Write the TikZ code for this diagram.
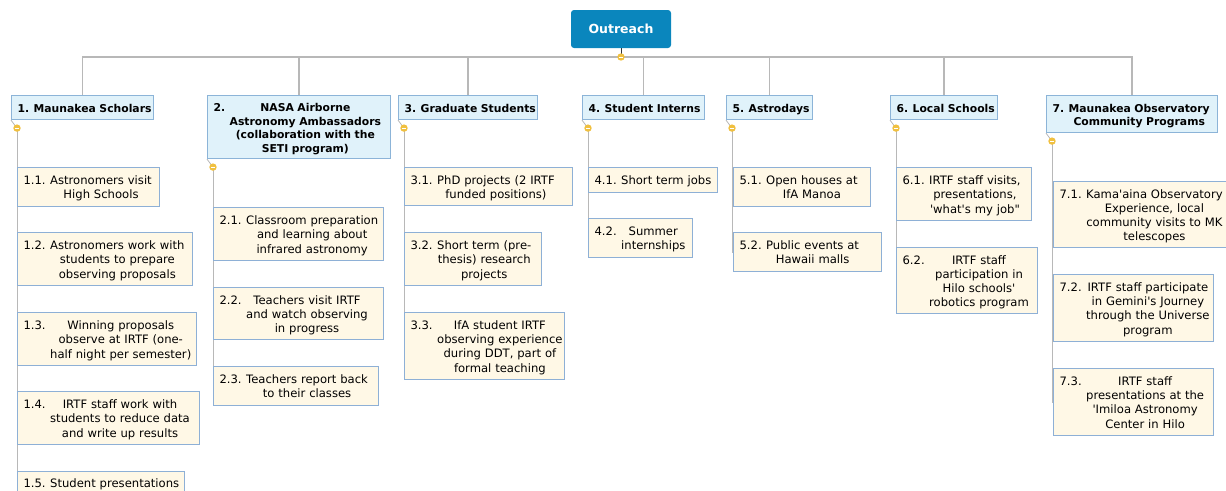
\documentclass[tikz,border=0pt]{standalone}
\usepackage{fontspec}
\setmainfont{DejaVu Sans}[Ligatures=TeXOff]
\usepackage{array}
\usetikzlibrary{calc}

\definecolor{rootblue}{HTML}{0A86BD}
\definecolor{hdrfill}{HTML}{E0F2FA}
\definecolor{hdrline}{HTML}{8CB4D8}
\definecolor{kidfill}{HTML}{FFF8E6}
\definecolor{kidline}{HTML}{8EB0D6}
\definecolor{linkgray}{HTML}{B8B8B8}
\definecolor{knobgold}{HTML}{F0C040}

\pgfdeclarelayer{background}
\pgfsetlayers{background,main}

\newcommand\kidfont{\fontsize{11.6}{14.2}\selectfont}
\newcommand\hdrfont{\fontsize{10.8}{13.5}\selectfont\bfseries}

\tikzset{
  root/.style={fill=rootblue, rounded corners=3pt, text=white,
    minimum width=100, minimum height=38, inner sep=0pt,
    font=\fontsize{12.5}{15}\selectfont\bfseries},
  boxbase/.style={anchor=north west, line width=1.1pt, inner xsep=6pt,
    inner ysep=1pt, align=left},
  hdr/.style={boxbase, draw=hdrline, fill=hdrfill, font=\hdrfont},
  kid/.style={boxbase, draw=kidline, fill=kidfill, font=\kidfont},
  link/.style={draw=linkgray, line width=1.6pt},
  twig/.style={draw=linkgray, line width=0.8pt},
  stem/.style={draw=black!80, line width=0.9pt},
}

% \outline{style}{name}{x}{y}{width}{height}{tabular rows}
% number on the left, the wording centred beside it
\newcommand\outline[7]{%
  \pgfmathsetmacro\tw{#5-12}%
  \node[#1, minimum width=#5, minimum height=#6, text width=\tw pt]
    (#2) at (#3,#4)
    {\raisebox{-2pt}[\height][\depth]{%
      \begin{tabular}{@{}l@{\hspace{4.5pt}}c@{}}#7\end{tabular}}};}

% collapse knob: gold disc with a light dash
\newcommand\knob[1]{%
  \fill[knobgold] (#1) circle (3.7pt);
  \draw[white, line width=0.7pt] ($(#1)+(-2.2,0)$) -- ($(#1)+(2.2,0)$);}

\begin{document}
\begin{tikzpicture}[x=1pt, y=-1pt]
\useasboundingbox (0,0) rectangle (1226,490);
\clip (0,0) rectangle (1226,490);

% root
\node[root] (root) at (621,29) {Outreach};
\coordinate (hub) at (621,57);

% main branches
\outline{hdr}{h1}{11}{95}{142}{24}{1. & Maunakea Scholars}
\outline{hdr}{h2}{207}{95}{183}{63}{2. & NASA Airborne\\ & Astronomy Ambassadors\\ & (collaboration with the\\ & SETI program)}
\outline{hdr}{h3}{398}{95}{139}{24}{3. & Graduate Students}
\outline{hdr}{h4}{582}{95}{122}{24}{4. & Student Interns}
\outline{hdr}{h5}{726}{95}{86}{24}{5. & Astrodays}
\outline{hdr}{h6}{890}{95}{107}{24}{6. & Local Schools}
\outline{hdr}{h7}{1046}{95}{171}{37}{7. & Maunakea Observatory\\ & Community Programs}

% knob positions below each branch
\foreach \i in {1,...,7} {
  \coordinate (k\i) at ($(h\i.south west)+(6,8)$);
  \coordinate (r\i) at ($(h\i.south west)+(6.5,8)$);
}

% sub-items
\outline{kid}{n11}{17}{167}{142}{39}{1.1. & Astronomers visit\\ & High Schools}
\outline{kid}{n12}{17}{232}{175}{53}{1.2. & Astronomers work with\\ & students to prepare\\ & observing proposals}
\outline{kid}{n13}{17}{312}{179}{53}{1.3. & Winning proposals\\ & observe at IRTF (one-\\ & half night per semester)}
\outline{kid}{n14}{17}{391}{182}{53}{1.4. & IRTF staff work with\\ & students to reduce data\\ & and write up results}
\outline{kid}{n15}{17}{471}{167}{22}{1.5. & Student presentations}

\outline{kid}{n21}{213}{207}{170}{53}{2.1. & Classroom preparation\\ & and learning about\\ & infrared astronomy}
\outline{kid}{n22}{213}{287}{170}{52}{2.2. & Teachers visit IRTF\\ & and watch observing\\ & in progress}
\outline{kid}{n23}{213}{366}{165}{39}{2.3. & Teachers report back\\ & to their classes}

\outline{kid}{n31}{404}{167}{168}{38}{3.1. & PhD projects (2 IRTF\\ & funded positions)}
\outline{kid}{n32}{404}{232}{137}{53}{3.2. & Short term (pre-\\ & thesis) research\\ & projects}
\outline{kid}{n33}{404}{312}{160}{67}{3.3. & IfA student IRTF\\ & observing experience\\ & during DDT, part of\\ & formal teaching}

\outline{kid}{n41}{588}{167}{129}{25}{4.1. & Short term jobs}
\outline{kid}{n42}{588}{218}{104}{39}{4.2. & Summer\\ & internships}

\outline{kid}{n51}{733}{167}{137}{39}{5.1. & Open houses at\\ & IfA Manoa}
\outline{kid}{n52}{733}{232}{148}{39}{5.2. & Public events at\\ & Hawaii malls}

\outline{kid}{n61}{896}{167}{135}{53}{6.1. & IRTF staff visits,\\ & presentations,\\ & 'what's my job"}
\outline{kid}{n62}{896}{247}{141}{66}{6.2. & IRTF staff\\ & participation in\\ & Hilo schools'\\ & robotics program}

\outline{kid}{n71}{1053}{181}{182}{66}{7.1. & Kama'aina Observatory\\ & Experience, local\\ & community visits to MK\\ & telescopes}
\outline{kid}{n72}{1053}{274}{160}{67}{7.2. & IRTF staff participate\\ & in Gemini's Journey\\ & through the Universe\\ & program}
\outline{kid}{n73}{1053}{368}{160}{67}{7.3. & IRTF staff\\ & presentations at the\\ & 'Imiloa Astronomy\\ & Center in Hilo}

% connectors, kept beneath the boxes
\begin{pgfonlayer}{background}
  \draw[stem] (root.south) -- (hub);
  \draw[link] (h1.north) |- (hub) -| (h7.north);
  \foreach \i in {2,...,6} {
    \draw[link] (h\i.north) -- (h\i.north |- hub);
  }
  \foreach \i in {1,...,7} {
    \draw[twig] (h\i.south west) -- (k\i);
  }
  \foreach \c/\kids in {1/{1,2,3,4,5}, 2/{1,2,3}, 3/{1,2,3}, 4/{1,2},
                        5/{1,2}, 6/{1,2}, 7/{1,2,3}} {
    \foreach \j in \kids {
      \draw[link] (r\c) |- (n\c\j.west);
    }
  }
\end{pgfonlayer}

% collapse knobs
\knob{hub}
\foreach \i in {1,...,7} { \knob{k\i} }

\end{tikzpicture}
\end{document}
